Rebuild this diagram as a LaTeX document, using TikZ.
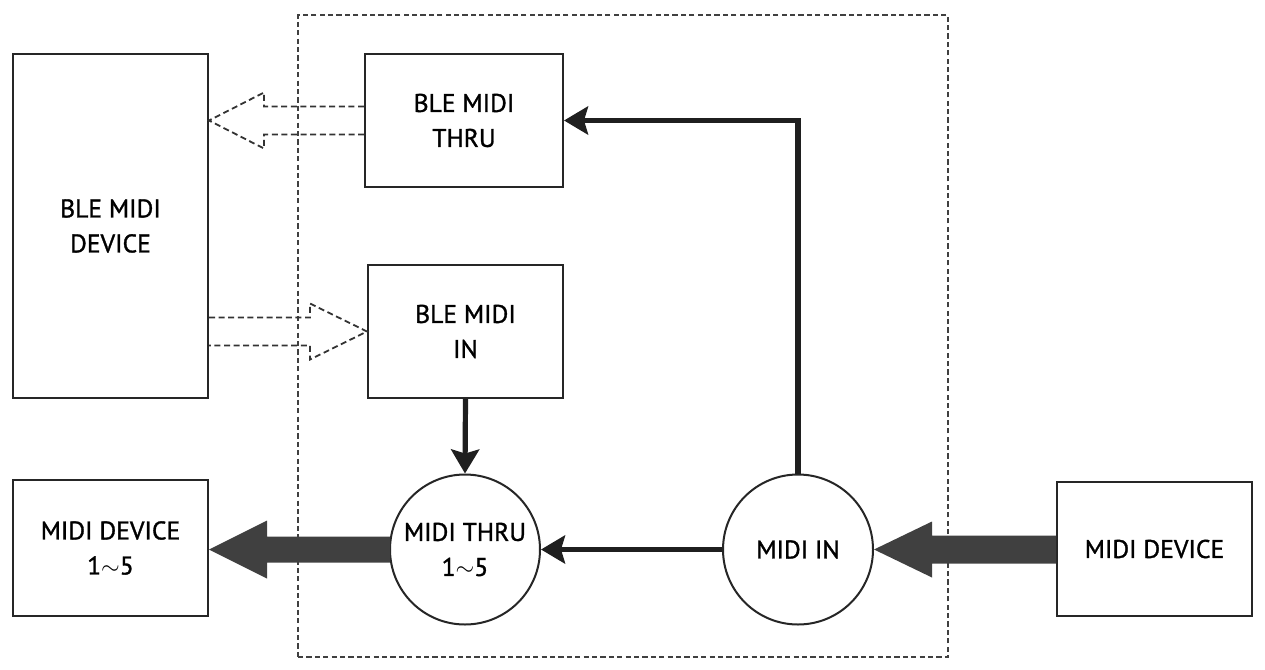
\documentclass[tikz,border=0pt]{standalone}
\usepackage{fontspec}
\setmainfont{PT Sans}
\newfontfamily\lblfont{PT Sans}[FakeBold=1.2]
\usetikzlibrary{arrows.meta,calc}
\begin{document}
\begin{tikzpicture}[x=0.5pt,y=-0.5pt,
  box/.style={draw=black!85,line width=1pt,rectangle,inner sep=0pt,align=center,
    font=\lblfont\fontsize{12.8}{17.5}\selectfont},
  circ/.style={draw=black!85,line width=1pt,circle,fill=white,inner sep=0pt,minimum size=75pt,align=center,
    font=\lblfont\fontsize{12.8}{17.5}\selectfont},
  thick arrow/.style={draw=black!88,line width=2.6pt,-{Stealth[length=12pt,width=14pt,inset=2pt]}},
  fat arrow/.style={fill=black!75,draw=none},
  hollow/.style={draw=black!80,line width=0.9pt,dash pattern=on 3pt off 1.8pt},
  frame/.style={draw=black!75,line width=1pt,dash pattern=on 2.6pt off 1.6pt}]
\useasboundingbox (0,0) rectangle (1265,670);
\node[frame,minimum width=325pt,minimum height=321pt,inner sep=0pt] (frm) at (623,336) {};
\node[box,minimum width=97.5pt,minimum height=172pt] (bledev) at (110.5,226) {BLE MIDI\\DEVICE};
\node[box,minimum width=99pt,minimum height=66.5pt] (blethru) at (464,120.5) {BLE MIDI\\THRU};
\node[box,minimum width=97.5pt,minimum height=66.5pt] (blein) at (465.5,331.5) {BLE MIDI\\IN};
\node[box,minimum width=97.5pt,minimum height=68pt] (dev15) at (110.5,548) {MIDI DEVICE\\1$\sim$5};
\node[box,minimum width=97.5pt,minimum height=67pt] (dev) at (1154.5,549) {MIDI DEVICE};
\node[circ] (thru) at (465,549.5) {MIDI THRU\\1$\sim$5};
\node[circ] (in) at (798,549.5) {MIDI IN};
% thick connectors
\draw[thick arrow] (in.north) |- (blethru.east);
\draw[thick arrow] (blein.south) -- (thru.north);
\draw[thick arrow] (in.west) -- (thru.east);
% fat arrows
\coordinate (t1) at (dev15.east |- thru.west);
\fill[fat arrow] ($(thru.west)+(1,-13)$) -- ($(t1)+(58,-13)$) -- ($(t1)+(58,-29)$) -- (t1)
  -- ($(t1)+(58,29)$) -- ($(t1)+(58,13)$) -- ($(thru.west)+(1,13)$) -- cycle;
\coordinate (t2) at (in.east);
\fill[fat arrow] ($(dev.west |- in.east)+(0,-14)$) -- ($(t2)+(58,-14)$) -- ($(t2)+(58,-28)$) -- (t2)
  -- ($(t2)+(58,28)$) -- ($(t2)+(58,14)$) -- ($(dev.west |- in.east)+(0,14)$) -- cycle;
% hollow dashed arrows
\coordinate (t3) at (bledev.east |- blethru.west);
\draw[hollow] ($(blethru.west)+(0,-14)$) -- ($(t3)+(55,-14)$) -- ($(t3)+(55,-28)$) -- (t3)
  -- ($(t3)+(55,28)$) -- ($(t3)+(55,14)$) -- ($(blethru.west)+(0,14)$);
\coordinate (t4) at (bledev.east |- blein.west);
\draw[hollow] (t4) ++(0,-14) -- ($(blein.west)+(-57,-14)$) -- ($(blein.west)+(-57,-28)$) -- (blein.west)
  -- ($(blein.west)+(-57,28)$) -- ($(blein.west)+(-57,14)$) -- ($(t4)+(0,14)$);
\end{tikzpicture}
\end{document}
